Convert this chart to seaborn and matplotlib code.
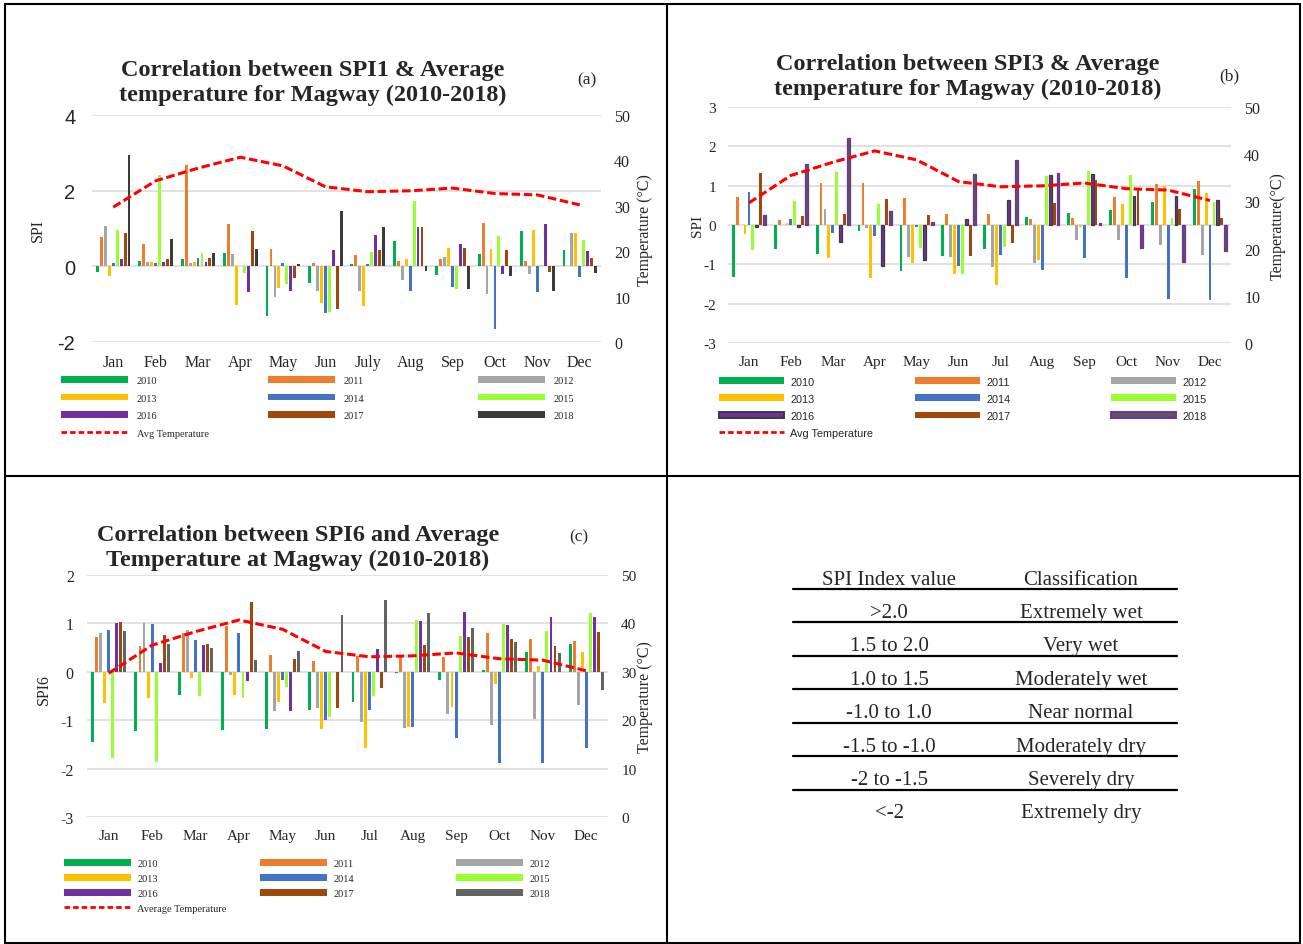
import numpy as np
import pandas as pd
import matplotlib
matplotlib.use("Agg")
import matplotlib.pyplot as plt
import seaborn as sns
from matplotlib.patches import Patch
from matplotlib.lines import Line2D

# ---------------- data ----------------
years = ['2010', '2011', '2012', '2013', '2014', '2015', '2016', '2017', '2018']
months_a = ['Jan', 'Feb', 'Mar', 'Apr', 'May', 'Jun', 'July', 'Aug', 'Sep', 'Oct', 'Nov', 'Dec']
months_bc = ['Jan', 'Feb', 'Mar', 'Apr', 'May', 'Jun', 'Jul', 'Aug', 'Sep', 'Oct', 'Nov', 'Dec']

avg_temp = [29.7, 35.5, 38.3, 40.7, 38.8, 34.2, 33.1, 33.3, 33.9, 32.7, 32.4, 30.2]

# SPI1 (panel a)
spi1_2010 = [-0.16, 0.13, 0.19, 0.35, -1.31, -0.45, 0.06, 0.68, -0.24, 0.33, 0.94, 0.42]
spi1_2011 = [0.77, 0.59, 2.67, 1.12, 0.46, 0.10, 0.29, 0.15, 0.20, 1.15, 0.13, 0.02]
spi1_2012 = [1.06, 0.11, 0.10, 0.33, -0.81, -0.64, -0.64, -0.35, 0.25, -0.72, -0.19, 0.88]
spi1_2013 = [-0.25, 0.11, 0.12, -1.02, -0.58, -0.96, -1.06, 0.19, 0.48, 0.46, 0.96, 0.88]
spi1_2014 = [0.10, 0.10, 0.22, 0.00, 0.10, -1.24, 0.07, -0.65, -0.55, -1.66, -0.69, -0.27]
spi1_2015 = [0.96, 2.41, 0.34, -0.18, -0.46, -1.20, 0.38, 1.74, -0.60, 0.80, 0.03, 0.70]
spi1_2016 = [0.20, 0.11, 0.12, -0.68, -0.65, 0.43, 0.84, 1.03, 0.59, -0.19, 1.13, 0.40]
spi1_2017 = [0.87, 0.19, 0.23, 0.93, -0.32, -1.12, 0.42, 1.03, 0.48, 0.44, -0.16, 0.22]
spi1_2018 = [2.94, 0.71, 0.34, 0.46, 0.07, 1.46, 1.04, -0.13, -0.60, -0.26, -0.66, -0.18]

# SPI3 (panel b)
spi3_2010 = [-1.31, -0.62, -0.73, -0.16, -1.16, -0.79, -0.60, 0.21, 0.30, 0.39, 0.58, 0.91]
spi3_2011 = [0.70, 0.12, 1.06, 1.08, 0.69, 0.27, 0.29, 0.16, 0.19, 0.72, 1.03, 1.11]
spi3_2012 = [0.00, 0.00, 0.41, -0.07, -0.82, -0.81, -1.08, -0.97, -0.39, -0.39, -0.52, -0.75]
spi3_2013 = [-0.24, 0.04, -0.85, -1.36, -0.96, -1.24, -1.53, -0.89, -0.05, 0.53, 0.99, 0.82]
spi3_2014 = [0.85, 0.14, -0.21, -0.28, -0.05, -1.04, -0.75, -1.14, -0.83, -1.36, -1.88, -1.91]
spi3_2015 = [-0.64, 0.62, 1.36, 0.54, -0.58, -1.24, -0.56, 1.24, 1.37, 1.28, 0.19, 0.59]
spi3_2016 = [-0.05, -0.05, -0.42, -1.03, -0.90, 0.14, 0.64, 1.27, 1.30, 0.74, 0.74, 0.64]
spi3_2017 = [1.32, 0.23, 0.27, 0.65, 0.25, -0.79, -0.47, 0.57, 1.15, 0.91, 0.41, 0.18]
spi3_2018 = [0.25, 1.55, 2.20, 0.36, 0.07, 1.29, 1.66, 1.31, 0.04, -0.59, -0.95, -0.65]

# SPI6 (panel c)
spi6_2010 = [-1.45, -1.23, -0.48, -1.20, -1.19, -0.79, -0.62, -0.03, -0.17, 0.03, 0.41, 0.57]
spi6_2011 = [0.72, 0.54, 0.81, 0.94, 0.34, 0.22, 0.33, 0.30, 0.31, 0.80, 0.68, 0.63]
spi6_2012 = [0.81, 1.00, 0.87, -0.06, -0.82, -0.75, -1.03, -1.16, -0.88, -1.10, -0.98, -0.69]
spi6_2013 = [-0.65, -0.54, -0.12, -0.48, -0.62, -1.19, -1.57, -1.14, -0.72, -0.26, 0.11, 0.40]
spi6_2014 = [0.86, 0.99, 0.66, 0.81, -0.17, -0.99, -0.78, -1.14, -1.36, -1.88, -1.89, -1.57]
spi6_2015 = [-1.78, -1.87, -0.49, -0.55, -0.32, -0.93, -0.50, 1.08, 0.74, 0.99, 0.85, 1.21]
spi6_2016 = [1.00, 0.19, 0.56, -0.20, -0.81, 0.00, 0.48, 1.05, 1.24, 0.97, 1.14, 1.13]
spi6_2017 = [1.02, 0.77, 0.57, 1.44, 0.26, -0.74, -0.34, 0.55, 0.72, 0.67, 0.53, 0.83]
spi6_2018 = [0.85, 0.57, 0.49, 0.24, 0.42, 1.17, 1.48, 1.21, 0.90, 0.61, 0.39, -0.37]

table_values = ['>2.0', '1.5 to 2.0', '1.0 to 1.5', '-1.0 to 1.0', '-1.5 to -1.0', '-2 to -1.5', '<-2']
table_classes = ['Extremely wet', 'Very wet', 'Moderately wet', 'Near normal',
                 'Moderately dry', 'Severely dry', 'Extremely dry']

# ---------------- style ----------------
sns.set_theme(style='white')
plt.rcParams['font.family'] = ['Liberation Serif', 'DejaVu Serif']
plt.rcParams['axes.unicode_minus'] = False
SERIF = 'Liberation Serif'
SANS = 'Liberation Sans'

base_colors = ['#00B050', '#ED7D31', '#A5A5A5', '#FFC000', '#4472C4',
               '#99FF33', '#7030A0', '#9E480E']
colors_a = base_colors + ['#3B3B3B']
colors_b = base_colors + ['#585858']
colors_c = base_colors + ['#636363']
edges_b = [None] * 6 + ['#3B3B3B', None, '#7030A0']

W, H = 1303, 945
fig = plt.figure(figsize=(W / 100, H / 100), dpi=100)


def fx(p):
    return p / W


def fy(p):
    return 1 - p / H


def rect_px(x0, x1, ytop, ybot):
    return [fx(x0), fy(ybot), (x1 - x0) / W, (ybot - ytop) / H]


def make_df(lists, months):
    rows = []
    for yr, vals in zip(years, lists):
        for m, v in zip(months, vals):
            rows.append((m, yr, v))
    return pd.DataFrame(rows, columns=['month', 'year', 'spi'])


def panel(rect, lists, months, ylim, yticks, colors, edges, left_family, left_size,
          left_pad, right_size, month_size):
    ax = fig.add_axes(rect)
    df = make_df(lists, months)
    sns.barplot(data=df, x='month', y='spi', hue='year', order=months, hue_order=years,
                palette=dict(zip(years, colors)), width=0.84, saturation=1,
                errorbar=None, legend=False, ax=ax)
    n = len(months)
    for i, p in enumerate(ax.patches):
        k = i // n
        w = p.get_width()
        p.set_x(p.get_x() + w * 0.14)
        p.set_width(w * 0.72)
        if edges is not None and edges[k] is not None:
            p.set_edgecolor(edges[k])
            p.set_linewidth(0.9)
        else:
            p.set_linewidth(0)
    ax2 = ax.twinx()
    sns.lineplot(x=np.arange(n), y=avg_temp, ax=ax2, color='#FF0000', linewidth=2.2,
                 linestyle=(0, (2.8, 1.2)))
    ax.set_xlim(-0.5, n - 0.5)
    ax.set_ylim(*ylim)
    ax2.set_ylim(0, 50)
    ax.set_xticks(range(n))
    ax.set_xticklabels(months, fontsize=month_size, family=SERIF)
    ax.set_yticks(yticks)
    ax.set_yticklabels([str(t) for t in yticks], fontsize=left_size, family=left_family)
    ax2.set_yticks([0, 10, 20, 30, 40, 50])
    ax2.set_yticklabels(['0', '10', '20', '30', '40', '50'], fontsize=right_size, family=SERIF)
    for a in (ax, ax2):
        a.set_xlabel('')
        a.set_ylabel('')
        for s in a.spines.values():
            s.set_visible(False)
    ax.yaxis.grid(True, color='#D9D9D9', linewidth=1.1)
    ax.xaxis.grid(False)
    ax.set_axisbelow(True)
    ax.tick_params(axis='x', length=0, pad=8.8)
    ax.tick_params(axis='y', length=0, pad=left_pad)
    ax2.tick_params(axis='y', length=0, pad=9.5)
    return ax, ax2


def legend_columns(cols, xs, ytop, family, size, hl, hh, htp, ls):
    for hs, x in zip(cols, xs):
        fig.legend(handles=hs, loc='upper left', bbox_to_anchor=(fx(x), fy(ytop)),
                   frameon=False, borderpad=0, borderaxespad=0, handlelength=hl,
                   handleheight=hh, handletextpad=htp, labelspacing=ls,
                   prop={'family': family, 'size': size})


def year_handles(colors):
    return [Patch(facecolor=c, edgecolor='none', linewidth=0, label=yr)
            for yr, c in zip(years, colors)]


TITLE_KW = dict(ha='center', va='center', fontsize=17.5, fontweight='bold', family=SERIF,
                linespacing=1.28)

# ---------------- panel (a) ----------------
panel(rect_px(92, 601, 116, 343),
      [spi1_2010, spi1_2011, spi1_2012, spi1_2013, spi1_2014, spi1_2015, spi1_2016, spi1_2017, spi1_2018],
      months_a, (-2, 4), [-2, 0, 2, 4], colors_a, None, SANS, 14.5, 12, 11.5, 11.5)
fig.text(fx(313), fy(83), 'Correlation between SPI1 & Average\ntemperature for Magway (2010-2018)',
         **TITLE_KW)
fig.text(fx(587), fy(80), '(a)', ha='center', va='center', fontsize=12.5, family=SERIF)
fig.text(fx(38), fy(230), 'SPI', rotation=90, ha='center', va='center', fontsize=11.5, family=SERIF)
fig.text(fx(645), fy(230), 'Temperature (°C)', rotation=90, ha='center', va='center',
         fontsize=11.5, family=SERIF)
ha_ = year_handles(colors_a)
line_a = Line2D([], [], color='#FF0000', lw=2, ls=(0, (2, 1.1)), label='Avg Temperature')
legend_columns([[ha_[0], ha_[3], ha_[6], line_a], [ha_[1], ha_[4], ha_[7]], [ha_[2], ha_[5], ha_[8]]],
               [61, 268, 478], 377, SERIF, 7.5, 6.45, 0.6, 0.85, 0.83)

# ---------------- panel (b) ----------------
panel(rect_px(728, 1231, 108, 344),
      [spi3_2010, spi3_2011, spi3_2012, spi3_2013, spi3_2014, spi3_2015, spi3_2016, spi3_2017, spi3_2018],
      months_bc, (-3, 3), [-3, -2, -1, 0, 1, 2, 3], colors_b, edges_b, SERIF, 11, 8.5, 11.5, 11)
fig.text(fx(968), fy(77), 'Correlation between SPI3 & Average\ntemperature for Magway (2010-2018)',
         **TITLE_KW)
fig.text(fx(1229), fy(76), '(b)', ha='center', va='center', fontsize=12.5, family=SERIF)
fig.text(fx(697), fy(226), 'SPI', rotation=90, ha='center', va='center', fontsize=11, family=SERIF)
fig.text(fx(1278), fy(226), 'Temperature(°C)', rotation=90, ha='center', va='center',
         fontsize=11.5, family=SERIF)
hb = year_handles(colors_b)
hb[6] = Patch(facecolor='#7030A0', edgecolor='#3B3B3B', linewidth=1.4, label='2016')
hb[8] = Patch(facecolor='#585858', edgecolor='#7030A0', linewidth=1.4, label='2018')
line_b = Line2D([], [], color='#FF0000', lw=2, ls=(0, (2, 1.1)), label='Avg Temperature')
legend_columns([[hb[0], hb[3], hb[6], line_b], [hb[1], hb[4], hb[7]], [hb[2], hb[5], hb[8]]],
               [719, 915, 1111], 377.5, SANS, 7.8, 6.0, 0.6, 0.6, 0.66)

# ---------------- panel (c) ----------------
panel(rect_px(87, 608, 576, 818),
      [spi6_2010, spi6_2011, spi6_2012, spi6_2013, spi6_2014, spi6_2015, spi6_2016, spi6_2017, spi6_2018],
      months_bc, (-3, 2), [-3, -2, -1, 0, 1, 2], colors_c, None, SERIF, 11.5, 9.5, 11, 11)
fig.text(fx(298), fy(548), 'Correlation between SPI6 and Average\nTemperature at Magway (2010-2018)',
         **TITLE_KW)
fig.text(fx(579), fy(537), '(c)', ha='center', va='center', fontsize=12.5, family=SERIF)
fig.text(fx(44), fy(690), 'SPI6', rotation=90, ha='center', va='center', fontsize=11.5, family=SERIF)
fig.text(fx(645), fy(697), 'Temperature (°C)', rotation=90, ha='center', va='center',
         fontsize=11.5, family=SERIF)
hc = year_handles(colors_c)
line_c = Line2D([], [], color='#FF0000', lw=2, ls=(0, (2, 1.1)), label='Average Temperature')
legend_columns([[hc[0], hc[3], hc[6], line_c], [hc[1], hc[4], hc[7]], [hc[2], hc[5], hc[8]]],
               [64, 260, 456], 860, SERIF, 7.5, 6.4, 0.6, 0.65, 0.57)

# ---------------- classification table ----------------
fig.text(fx(889), fy(580.5), 'SPI Index value', ha='center', va='center', fontsize=15, family=SERIF)
fig.text(fx(1081), fy(580.5), 'Classification', ha='center', va='center', fontsize=15, family=SERIF)
for i, (v, c) in enumerate(zip(table_values, table_classes)):
    yy = 613.5 + i * 33.4
    fig.text(fx(889), fy(yy), v, ha='center', va='center', fontsize=15, family=SERIF)
    fig.text(fx(1081), fy(yy), c, ha='center', va='center', fontsize=15, family=SERIF)
for i in range(7):
    yl = 590 + i * 33.45
    fig.add_artist(Line2D([fx(793), fx(1177)], [fy(yl), fy(yl)], color='black', lw=1.6))

# ---------------- frame ----------------
frame_lines = [((5, 1300), (5, 5)), ((5, 1300), (477, 477)), ((5, 1300), (944, 944)),
               ((5, 5), (5, 944)), ((667, 667), (5, 944)), ((1300, 1300), (5, 944))]
for (xa, xb), (ya, yb) in frame_lines:
    fig.add_artist(Line2D([fx(xa), fx(xb)], [fy(ya), fy(yb)], color='black', lw=1.5))

fig.savefig('out.png', dpi=100)
